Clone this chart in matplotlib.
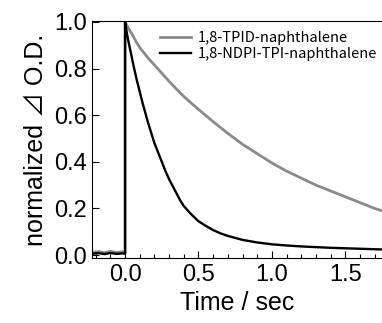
import numpy as np
import matplotlib
matplotlib.use("Agg")
import matplotlib.pyplot as plt
from matplotlib.ticker import MultipleLocator, FormatStrFormatter

# values
t_base = [-0.22, -0.18, -0.14, -0.10, -0.06, -0.02, 0.0]
gray_base = [0.012, 0.015, 0.010, 0.016, 0.011, 0.014, 0.012]
black_base = [0.006, 0.008, 0.004, 0.009, 0.005, 0.007, 0.006]

t_gray = [0.0, 0.025, 0.05, 0.075, 0.1, 0.15, 0.2, 0.25, 0.3, 0.35, 0.4, 0.45,
          0.5, 0.6, 0.7, 0.8, 0.9, 1.0, 1.1, 1.2, 1.3, 1.4, 1.5, 1.6, 1.7, 1.75]
y_gray = [1.0, 0.97, 0.945, 0.915, 0.89, 0.85, 0.815, 0.78, 0.745, 0.712,
          0.68, 0.652, 0.625, 0.572, 0.522, 0.475, 0.435, 0.395, 0.36, 0.33,
          0.30, 0.275, 0.25, 0.225, 0.20, 0.19]

t_black = [0.0, 0.01, 0.02, 0.03, 0.04, 0.05, 0.06, 0.08, 0.10, 0.12, 0.14,
           0.16, 0.18, 0.20, 0.225, 0.25, 0.275, 0.30, 0.325, 0.35, 0.375,
           0.40, 0.45, 0.50, 0.55, 0.60, 0.65, 0.70, 0.80, 0.90, 1.0, 1.1,
           1.2, 1.3, 1.4, 1.5, 1.6, 1.75]
y_black = [1.0, 0.96, 0.925, 0.895, 0.865, 0.835, 0.805, 0.75, 0.70, 0.65,
           0.605, 0.56, 0.52, 0.48, 0.44, 0.40, 0.36, 0.325, 0.295, 0.265,
           0.235, 0.21, 0.175, 0.145, 0.125, 0.107, 0.093, 0.082, 0.065,
           0.054, 0.046, 0.041, 0.037, 0.034, 0.031, 0.029, 0.027, 0.024]

labels = ["1,8-TPID-naphthalene", "1,8-NDPI-TPI-naphthalene"]

plt.rcParams['font.family'] = ['Liberation Sans', 'Noto Sans CJK JP', 'DejaVu Sans']

fig = plt.figure(figsize=(3.82, 3.23), dpi=100)
ax = fig.add_axes([0.241, 0.201, 0.759, 0.734])

ax.plot(t_base + t_gray, gray_base + y_gray, color='#8a8a8a', lw=2.0, label=labels[0])
ax.plot(t_base + t_black, black_base + y_black, color='black', lw=1.7, label=labels[1])

ax.set_xlim(-0.225, 1.75)
ax.set_ylim(-0.013, 1.004)
ax.xaxis.set_major_locator(MultipleLocator(0.5))
ax.xaxis.set_minor_locator(MultipleLocator(0.1))
ax.yaxis.set_major_locator(MultipleLocator(0.2))
ax.tick_params(direction='in', which='both', top=False, right=False, labelsize=17)
ax.tick_params(which='major', length=5, width=0.8, pad=4)
ax.tick_params(which='minor', length=3, width=0.8)
ax.xaxis.set_major_formatter(FormatStrFormatter('%.1f'))
ax.yaxis.set_major_formatter(FormatStrFormatter('%.1f'))
for s in ax.spines.values():
    s.set_linewidth(0.8)
ax.spines['right'].set_visible(False)

ax.set_xlabel("Time / sec", fontsize=18, labelpad=4)
ax.set_ylabel("normalized ⊿ O.D.", fontsize=18, labelpad=4)

ax.legend(loc='upper left', bbox_to_anchor=(0.2, 1.0), frameon=False,
          prop={'family': 'Noto Sans CJK JP', 'size': 10.5},
          handlelength=2.1, handletextpad=0.5, labelspacing=0.12,
          borderaxespad=0.3)

fig.savefig("out.png", dpi=100)
